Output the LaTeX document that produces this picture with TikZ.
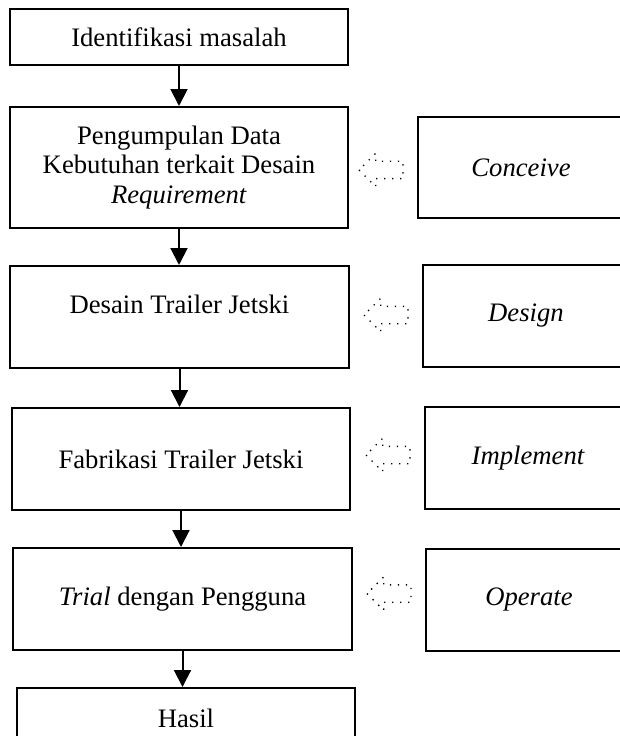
\documentclass[tikz,border=0pt]{standalone}
\usepackage{fontspec}
\setmainfont{Liberation Serif}
\usetikzlibrary{positioning}
\usetikzlibrary{arrows.meta}
\usetikzlibrary{shapes.arrows}
\newcommand{\flowfont}{\fontsize{12}{13.3}\selectfont}
\tikzset{
  stage-box/.style={draw, line width=0.9pt, align=center, inner sep=2pt,
    minimum width=152.1pt, minimum height=45.9pt},
  phase-box/.style={draw, line width=0.9pt, font=\flowfont\itshape,
    minimum width=92.7pt, minimum height=45.9pt},
  flow-path/.style={line width=0.9pt, -{Triangle[width=7.6pt, length=7.6pt]}},
  hint-arrow/.style={single arrow, shape border rotate=180, draw,
    line width=0.6pt, dash pattern=on 0.6pt off 3pt, inner xsep=0pt, inner ysep=3.6pt,
    minimum height=19.8pt, minimum width=0pt, single arrow head extend=3.6pt},
}

\begin{document}
\begin{tikzpicture}[x=0.45pt, y=-0.45pt, font=\flowfont]
\useasboundingbox (0,0) rectangle (619,736);
% main flow
\node[stage-box, minimum height=25.2pt] (identifikasi) at (179,37) {Identifikasi masalah};
\node[stage-box, minimum height=54.45pt] (kebutuhan) at (179,167.5) {Pengumpulan Data\\Kebutuhan terkait Desain\\\textit{Requirement}};
\node[stage-box] (desain) at (179.5,317) {Desain Trailer Jetski\\[-5.4pt]\strut};
\node[stage-box] (fabrikasi) at (181,459) {Fabrikasi Trailer Jetski};
\node[stage-box] (trial) at (182.5,599) {\textit{Trial} dengan Pengguna};
\node[stage-box, minimum height=40.5pt] (hasil) at (186,733) {Hasil\\[-4pt]\strut};
\foreach \from/\to in {identifikasi/kebutuhan, kebutuhan/desain, desain/fabrikasi, fabrikasi/trial, trial/hasil}
  \draw[flow-path] (\from) -- (\from.south |- \to.north);
% CDIO phases
\node[phase-box, minimum height=45.45pt] (conceive) at (521,167.5) {Conceive};
\node[phase-box] (design) at (526,316) {Design};
\node[phase-box] (implement) at (528,458) {Implement};
\node[phase-box] (operate) at (529,600) {Operate};
\foreach \phase/\shift in {conceive/-1.1, design/0.45, implement/1.35, operate/2.9}
  \node[hint-arrow, left=6pt of \phase, yshift=\shift pt] (hint-\phase) {};
\end{tikzpicture}
\end{document}
